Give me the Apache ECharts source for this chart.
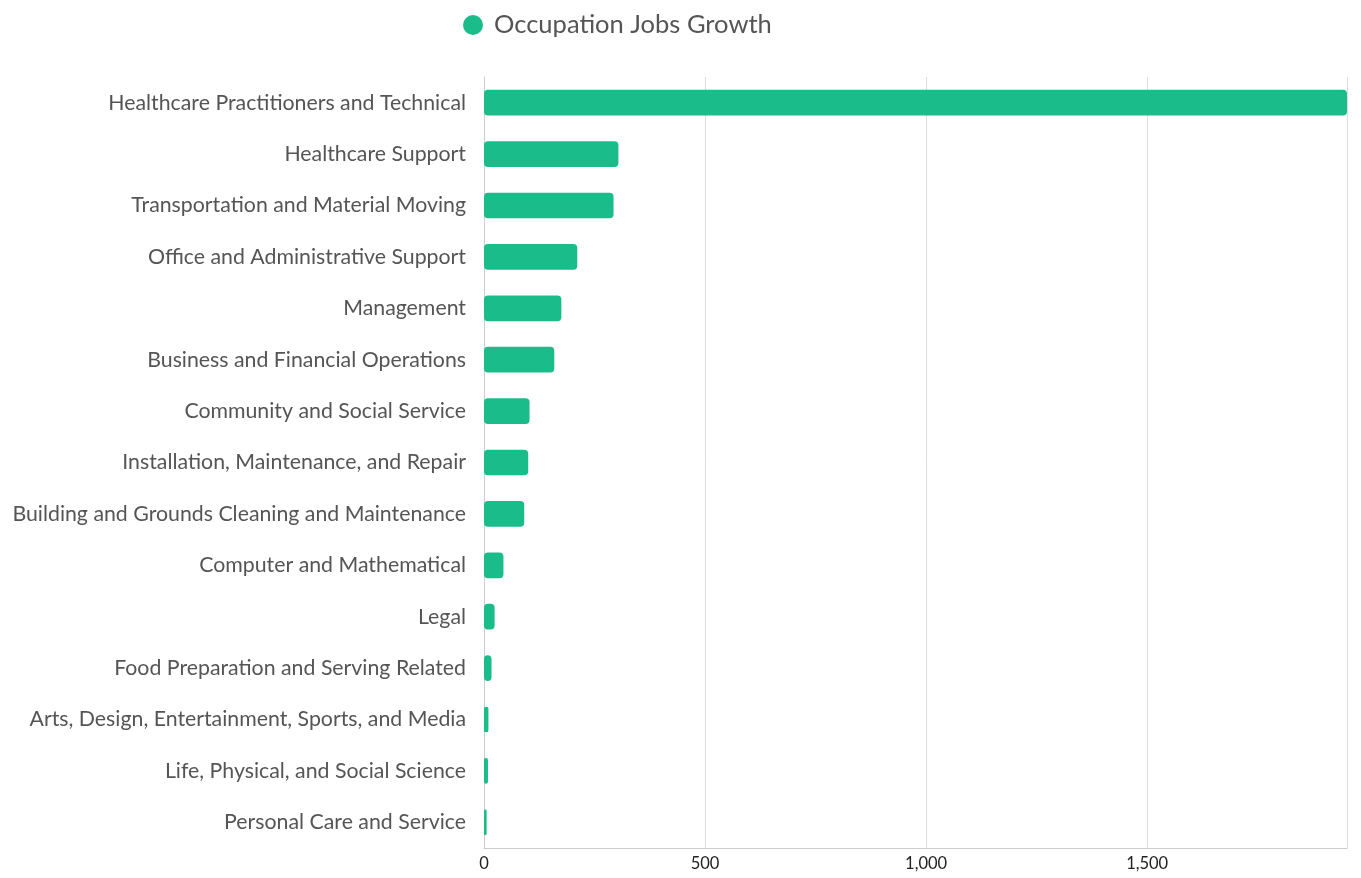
<!DOCTYPE html>
<html>
<head>
<meta charset="utf-8">
<script src="https://cdn.jsdelivr.net/npm/echarts@6/dist/echarts.min.js"></script>
<style>
  html, body { margin: 0; padding: 0; background: #fff; }
  #main { width: 1361px; height: 878px; }
</style>
</head>
<body>
<div id="main"></div>
<script>
let occupations = [
	'Healthcare Practitioners and Technical',
	'Healthcare Support',
	'Transportation and Material Moving',
	'Office and Administrative Support',
	'Management',
	'Business and Financial Operations',
	'Community and Social Service',
	'Installation, Maintenance, and Repair',
	'Building and Grounds Cleaning and Maintenance',
	'Computer and Mathematical',
	'Legal',
	'Food Preparation and Serving Related',
	'Arts, Design, Entertainment, Sports, and Media',
	'Life, Physical, and Social Science',
	'Personal Care and Service'
];
let jobsGrowth = [1952, 304, 293, 211, 175, 159, 103, 100, 91, 44, 24, 17, 10, 9, 6];

let chart = echarts.init(document.getElementById('main'));
let option = {
	textStyle: { fontFamily: 'Lato' },
	legend: {
		left: 458,
		top: 7,
		icon: 'circle',
		itemWidth: 20,
		itemHeight: 20,
		itemGap: 10,
		textStyle: { fontSize: 25.5, color: '#555', fontFamily: 'Lato', padding: [0, 0, 0, 6] },
		data: ['Occupation Jobs Growth']
	},
	grid: {
		left: 484,
		right: 14,
		top: 77,
		bottom: 30,
		containLabel: false
	},
	xAxis: {
		type: 'value',
		min: 0,
		max: 'dataMax',
		interval: 500,
		axisLine: { show: true, lineStyle: { color: '#ccc' } },
		axisTick: { show: false },
		splitLine: { lineStyle: { color: '#ddd' } },
		axisLabel: { color: '#222', fontSize: 16.5, margin: 7, showMaxLabel: false }
	},
	yAxis: {
		type: 'category',
		inverse: true,
		data: occupations,
		axisLine: { show: true, lineStyle: { color: '#ccc' } },
		axisTick: { show: false },
		axisLabel: { color: '#555', fontSize: 21.3, margin: 18 }
	},
	series: [{
		name: 'Occupation Jobs Growth',
		type: 'bar',
		data: jobsGrowth,
		barWidth: '50%',
		itemStyle: { color: '#1abc8a', borderRadius: 4 }
	}]
};
chart.setOption(option);
</script>
</body>
</html>
